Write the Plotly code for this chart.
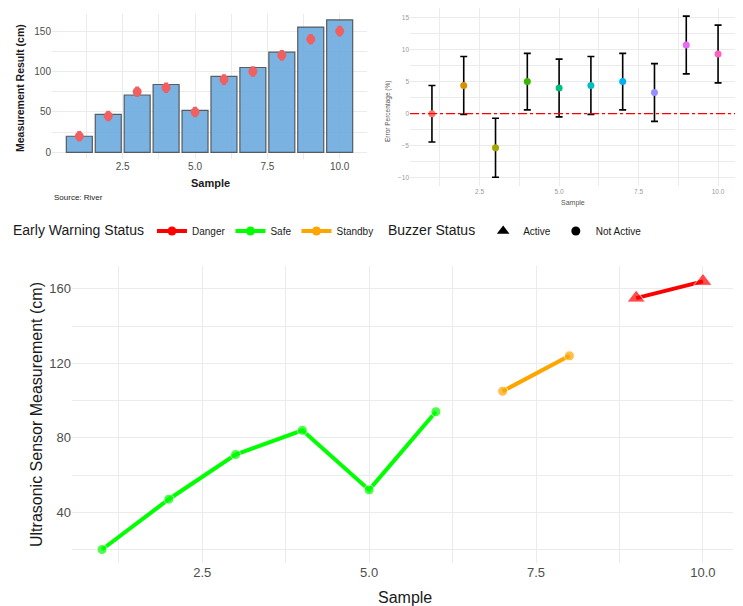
import plotly.graph_objects as go

# ---------------- data ----------------
samples = [1, 2, 3, 4, 5, 6, 7, 8, 9, 10]
sensor_cm = [20, 47, 71, 84, 52, 94, 105, 124, 155, 164]
actual_cm = [20, 45, 75, 80, 50, 90, 100, 120, 140, 150]
actual_err = [5, 5, 5, 5, 5, 5, 5, 5, 5, 5]
error_pct = [0.0, 4.4, -5.3, 5.0, 4.0, 4.4, 5.0, 3.3, 10.7, 9.3]
error_ci = [4.4, 4.5, 4.6, 4.4, 4.5, 4.5, 4.4, 4.5, 4.5, 4.5]
warning_status = ["Safe", "Safe", "Safe", "Safe", "Safe", "Safe",
                  "Standby", "Standby", "Danger", "Danger"]
buzzer_status = ["Not Active"] * 8 + ["Active"] * 2
status_order = ["Danger", "Safe", "Standby"]
buzzer_order = ["Active", "Not Active"]
x_tickvals = [2.5, 5.0, 7.5, 10.0]
x_ticktext = ["2.5", "5.0", "7.5", "10.0"]

status_colors = {"Danger": "#FF0000", "Safe": "#00FF00", "Standby": "#FFA500"}
buzzer_symbols = {"Active": "triangle-up", "Not Active": "circle"}
hue_colors = ["#F8766D", "#D89000", "#A3A500", "#39B600", "#00BF7D",
              "#00BFC4", "#00B0F6", "#9590FF", "#E76BF3", "#FF62BC"]

W, H = 743, 606
OFF = 8  # default page body margin
def px_x(p): return (p - OFF) / W
def px_y(p): return 1 - (p - OFF) / H

GRID = "#EBEBEB"
FONT = "Liberation Sans, Arial, sans-serif"

fig = go.Figure()

# ---------- top-left: bars + actual points ----------
fig.add_trace(go.Bar(
    x=samples, y=sensor_cm, width=0.9,
    marker=dict(color="rgba(108,170,222,0.9)", line=dict(color="rgba(70,70,70,0.85)", width=1.2)),
    xaxis="x", yaxis="y", showlegend=False))
fig.add_trace(go.Scatter(
    x=samples, y=actual_cm, mode="markers",
    marker=dict(color="#F06060", size=9),
    error_y=dict(type="data", array=actual_err, color="#F06060", thickness=2.5, width=2),
    xaxis="x", yaxis="y", showlegend=False))

# ---------- top-right: error percentage ----------
fig.add_trace(go.Scatter(
    x=samples, y=error_pct, mode="markers",
    marker=dict(color=hue_colors, size=7),
    error_y=dict(type="data", array=error_ci, color="black", thickness=1.6, width=3.5),
    xaxis="x2", yaxis="y2", showlegend=False))

# ---------- bottom: status lines ----------
for st in status_order:
    xs = [s for s, w in zip(samples, warning_status) if w == st]
    ys = [v for v, w in zip(sensor_cm, warning_status) if w == st]
    syms = [buzzer_symbols[b] for b, w in zip(buzzer_status, warning_status) if w == st]
    sizes = [16 if s == "triangle-up" else 10 for s in syms]
    fig.add_trace(go.Scatter(
        x=xs, y=ys, mode="lines+markers",
        line=dict(color=status_colors[st], width=4),
        marker=dict(color=status_colors[st], symbol=syms, size=sizes),
        xaxis="x3", yaxis="y3", showlegend=False))

# legend entries
for st in status_order:
    fig.add_trace(go.Scatter(
        x=[None], y=[None], mode="lines+markers", name=st,
        line=dict(color=status_colors[st], width=4),
        marker=dict(color=status_colors[st], symbol="circle", size=9),
        xaxis="x3", yaxis="y3", legend="legend"))
for b in buzzer_order:
    fig.add_trace(go.Scatter(
        x=[None], y=[None], mode="markers", name=b,
        marker=dict(color="black", symbol=buzzer_symbols[b], size=11 if b == "Active" else 9),
        xaxis="x3", yaxis="y3", legend="legend2"))

def xax(domain, rng, anchor, size, color):
    return dict(domain=domain, range=rng, anchor=anchor, tickvals=x_tickvals, ticktext=x_ticktext,
                showgrid=True, gridcolor=GRID, gridwidth=1.3, zeroline=False, showline=False,
                ticks="", tickfont=dict(size=size, color=color, family=FONT),
                minor=dict(tickvals=[1.25, 3.75, 6.25, 8.75], showgrid=True, gridcolor=GRID, gridwidth=0.8),
                automargin=False)

def yax(domain, rng, anchor, tickvals, minor, size, color):
    return dict(domain=domain, range=rng, anchor=anchor, tickvals=tickvals,
                showgrid=True, gridcolor=GRID, gridwidth=1.3, zeroline=False, showline=False,
                ticks="", tickfont=dict(size=size, color=color, family=FONT),
                minor=dict(tickvals=minor, showgrid=True, gridcolor=GRID, gridwidth=0.8),
                automargin=False)

LEG_TITLE_FONT = dict(size=14, family=FONT, color="#1a1a1a")
fig.update_layout(
    width=W, height=H, margin=dict(l=0, r=0, t=0, b=0),
    paper_bgcolor="white", plot_bgcolor="white",
    font=dict(family=FONT),
    xaxis=xax([px_x(52), px_x(367)], [0.055, 10.945], "y", 10, "#4D4D4D"),
    yaxis=yax([px_y(159), px_y(14)], [-8.15, 171.15], "x", [0, 50, 100, 150], [25, 75, 125], 10, "#4D4D4D"),
    xaxis2=xax([px_x(410), px_x(740)], [0.31, 10.69], "y2", 6.5, "#999999"),
    yaxis2=yax([px_y(186), px_y(8)], [-11.26, 16.46], "x2", [-10, -5, 0, 5, 10, 15],
               [-7.5, -2.5, 2.5, 7.5, 12.5], 6.5, "#999999"),
    xaxis3=xax([px_x(72), px_x(733)], [0.55, 10.45], "y3", 13, "#4D4D4D"),
    yaxis3=yax([px_y(563), px_y(266)], [12.75, 172.25], "x3", [40, 80, 120, 160],
               [20, 60, 100, 140], 13, "#4D4D4D"),
    legend=dict(orientation="h", x=px_x(11), y=px_y(231), xanchor="left", yanchor="middle",
                title=dict(text="Early Warning Status", side="left", font=LEG_TITLE_FONT),
                font=dict(size=10, color="#1a1a1a", family=FONT), bgcolor="rgba(0,0,0,0)", itemwidth=30),
    legend2=dict(orientation="h", x=px_x(386), y=px_y(231), xanchor="left", yanchor="middle",
                 title=dict(text="Buzzer Status", side="left", font=LEG_TITLE_FONT),
                 font=dict(size=10, color="#1a1a1a", family=FONT), bgcolor="rgba(0,0,0,0)", itemwidth=30),
    showlegend=True,
)

# red reference line at 0 in the error panel
fig.add_shape(type="line", xref="x2 domain", yref="y2", x0=0, x1=1, y0=0, y1=0,
              line=dict(color="#FF0000", width=1.3, dash="dashdot"))

annots = [
    dict(text="<b>Measurement Result (cm)</b>", x=px_x(20), y=px_y(88), textangle=-90, size=10.5, color="#1a1a1a"),
    dict(text="<b>Sample</b>", x=px_x(210), y=px_y(183), textangle=0, size=11, color="#1a1a1a"),
    dict(text="Error Percentage (%)", x=px_x(388), y=px_y(112), textangle=-90, size=6.5, color="#555555"),
    dict(text="Sample", x=px_x(573), y=px_y(203), textangle=0, size=7, color="#555555"),
    dict(text="Ultrasonic Sensor Measurement (cm)", x=px_x(36), y=px_y(415), textangle=-90, size=16, color="#1a1a1a"),
    dict(text="Sample", x=px_x(405), y=px_y(597), textangle=0, size=16, color="#1a1a1a"),
]
for a in annots:
    fig.add_annotation(text=a["text"], x=a["x"], y=a["y"], xref="paper", yref="paper",
                       textangle=a["textangle"], showarrow=False, xanchor="center", yanchor="middle",
                       font=dict(size=a["size"], color=a["color"], family=FONT))
fig.add_annotation(text="Source: River", x=px_x(52), y=px_y(197), xref="paper", yref="paper",
                   showarrow=False, xanchor="left", yanchor="middle",
                   font=dict(size=8, color="#1a1a1a", family=FONT))

fig.write_html("out.html")
